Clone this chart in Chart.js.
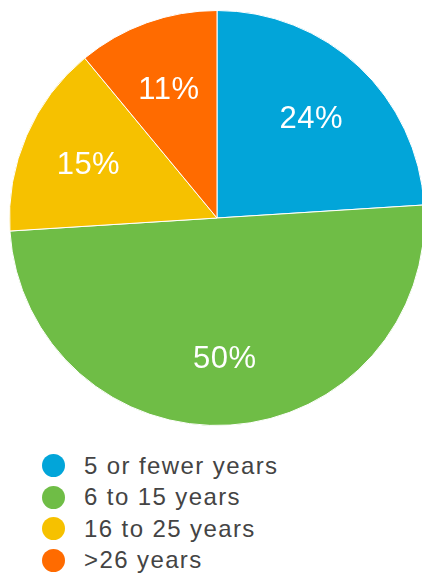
<!DOCTYPE html>
<html>
<head>
<meta charset="utf-8">
<script src="https://cdn.jsdelivr.net/npm/chart.js@4/dist/chart.umd.min.js"></script>
<style>
    body { margin: 0; background: #fff; overflow: hidden; width: 422px; height: 576px; position: relative; }
    #pieBox { position: absolute; left: 0; top: 10px; width: 434px; height: 416px; }
    #legend { position: absolute; left: 42px; top: 450px; font-family: "Liberation Sans", Arial, sans-serif; font-size: 24px; letter-spacing: 1.4px; color: #444; }
    .row { display: flex; align-items: center; height: 31.5px; }
    .dot { width: 23px; height: 23px; border-radius: 50%; margin-right: 19px; flex: none; }
</style>
</head>
<body>
<div id="pieBox"><canvas id="tenureChart" width="434" height="416"></canvas></div>
<div id="legend"></div>
<script>
var labels = ['5 or fewer years', '6 to 15 years', '16 to 25 years', '>26 years'];
var shares = [24, 50, 15, 11];
var colors = ['#02a5d9', '#6fbd46', '#f6c100', '#ff6b00'];

// percentage text inside each slice
var sliceLabels = {
    id: 'sliceLabels',
    afterDatasetsDraw: function (chart) {
        var ctx = chart.ctx;
        var meta = chart.getDatasetMeta(0);
        ctx.save();
        ctx.fillStyle = '#fff';
        ctx.font = '31px "Liberation Sans", Arial, sans-serif';
        ctx.letterSpacing = '0.5px';
        ctx.textAlign = 'center';
        ctx.textBaseline = 'middle';
        meta.data.forEach(function (arc, i) {
            var p = arc.getProps(['x', 'y', 'startAngle', 'endAngle', 'outerRadius'], true);
            var mid = (p.startAngle + p.endAngle) / 2;
            var r = p.outerRadius * 0.67;
            ctx.fillText(shares[i] + '%', p.x + Math.cos(mid) * r - 1, p.y + Math.sin(mid) * r + 3);
        });
        ctx.restore();
    }
};

var ctx = document.getElementById('tenureChart').getContext('2d');
var tenureChart = new Chart(ctx, {
    type: 'pie',
    data: {
        labels: labels,
        datasets: [{
            data: shares,
            backgroundColor: colors,
            borderColor: '#fff',
            borderWidth: 1
        }]
    },
    options: {
        responsive: false,
        animation: false,
        layout: { padding: 0 },
        plugins: {
            legend: { display: false },
            tooltip: { enabled: false }
        }
    },
    plugins: [sliceLabels]
});

var legend = document.getElementById('legend');
labels.forEach(function (label, i) {
    var row = document.createElement('div');
    row.className = 'row';
    var dot = document.createElement('span');
    dot.className = 'dot';
    dot.style.background = colors[i];
    var txt = document.createElement('span');
    txt.textContent = label;
    row.appendChild(dot);
    row.appendChild(txt);
    legend.appendChild(row);
});
</script>
</body>
</html>
